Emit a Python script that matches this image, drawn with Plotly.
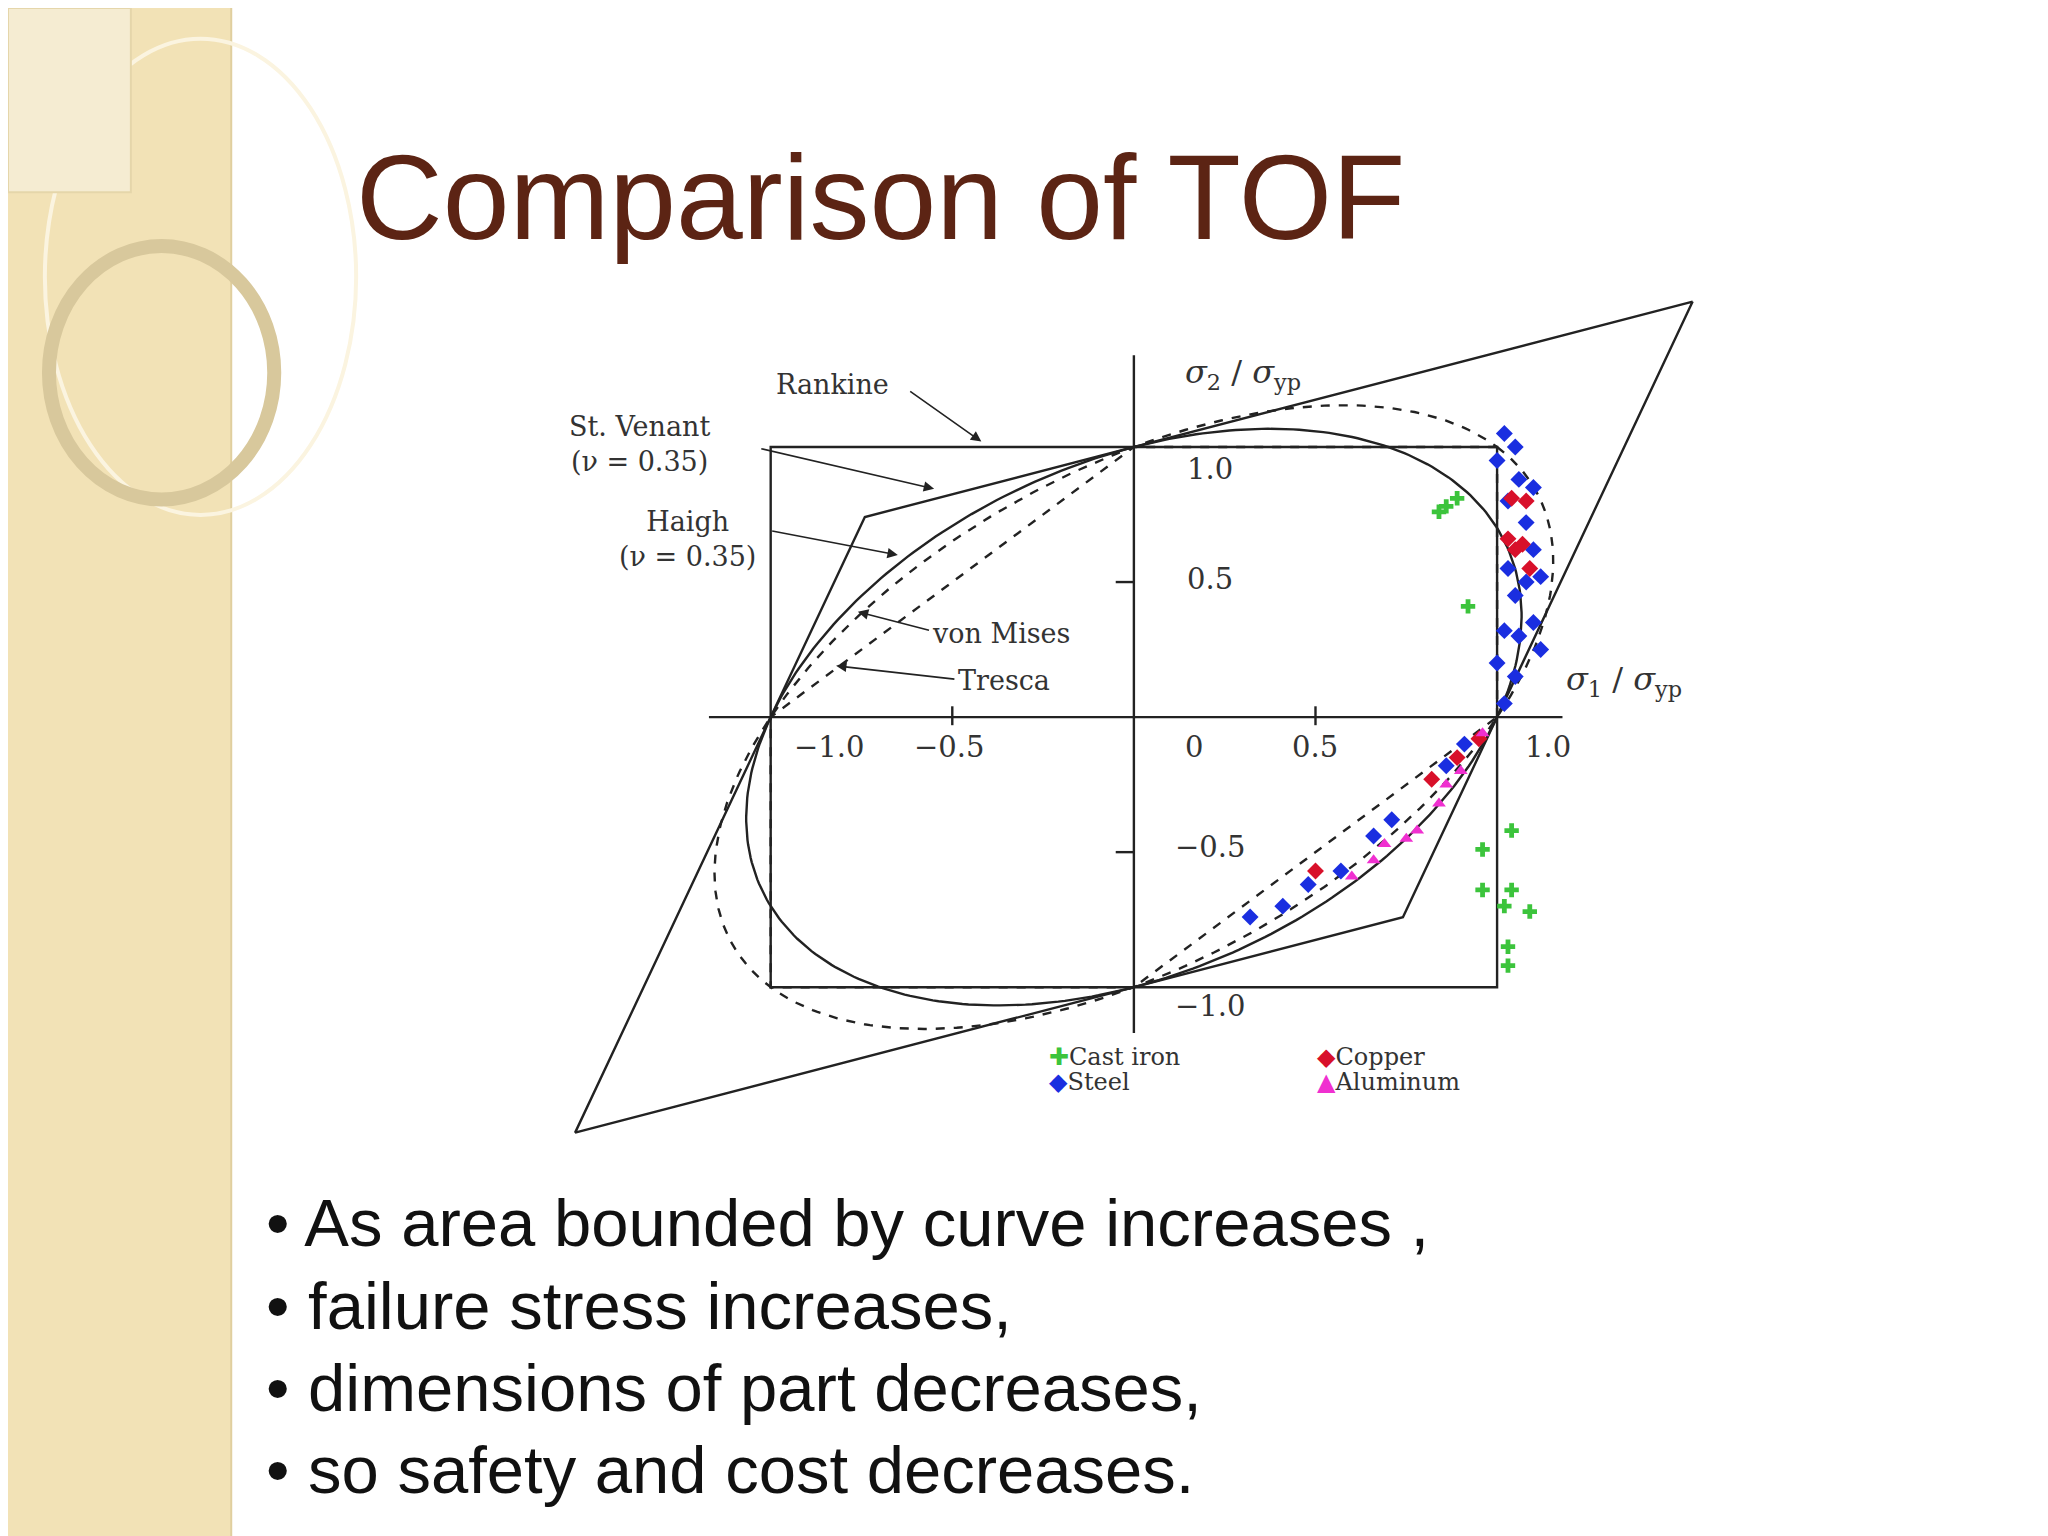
import numpy as np
import plotly.graph_objects as go

# ---- data (normalised stresses s1/syp, s2/syp) ----
nu = 0.35
rankine_x = [1, -1, -1, 1, 1]
rankine_y = [1, 1, -1, -1, 1]
tresca_x = [1, 1, 0, -1, -1, 0, 1]
tresca_y = [0, 1, 1, 0, -1, -1, 0]
sv_x = [1 / (1 - nu), -1 / (1 + nu), -1 / (1 - nu), 1 / (1 + nu), 1 / (1 - nu)]
sv_y = [1 / (1 - nu), 1 / (1 + nu), -1 / (1 - nu), -1 / (1 + nu), 1 / (1 - nu)]

steel_x = [1.02, 1.05, 1.0, 1.06, 1.1, 1.03, 1.08, 1.1, 1.03, 1.08, 1.12, 1.05, 1.1, 1.02, 1.06, 1.12, 1.0, 1.05, 1.02,
           0.32, 0.41, 0.48, 0.57, 0.66, 0.71, 0.86, 0.91]
steel_y = [1.05, 1.0, 0.95, 0.88, 0.85, 0.8, 0.72, 0.62, 0.55, 0.5, 0.52, 0.45, 0.35, 0.32, 0.3, 0.25, 0.2, 0.15, 0.05,
           -0.74, -0.70, -0.62, -0.57, -0.44, -0.38, -0.18, -0.1]
copper_x = [1.04, 1.07, 1.03, 1.09, 1.08, 1.05, 0.5, 0.82, 0.89, 0.95]
copper_y = [0.81, 0.64, 0.66, 0.55, 0.8, 0.62, -0.57, -0.23, -0.15, -0.08]
alum_x = [0.6, 0.69, 0.78, 0.84, 0.86, 0.96, 0.75, 0.66, 0.9]
alum_y = [-0.59, -0.47, -0.42, -0.32, -0.25, -0.06, -0.45, -0.53, -0.2]
cast_x = [0.84, 0.89, 0.86, 0.92, 1.04, 0.96, 0.96, 1.04, 1.02, 1.09, 1.03, 1.03]
cast_y = [0.76, 0.81, 0.78, 0.41, -0.42, -0.49, -0.64, -0.64, -0.70, -0.72, -0.85, -0.92]

axis_h_x = [-1.17, 1.18]
axis_v_y = [-1.17, 1.34]
xtick_vals = [-0.5, 0.5]
ytick_vals = [0.5, -0.5]

bullets = ["• As area bounded by curve increases ,",
           "• failure stress increases,",
           "• dimensions of part decreases,",
           "• so safety and cost decreases."]


def ellipse(n):
    t = np.linspace(0, 2 * np.pi, 361)
    u = np.cos(t) / np.sqrt(1 - n)
    v = np.sin(t) / np.sqrt(1 + n)
    return (u + v) / np.sqrt(2), (u - v) / np.sqrt(2)


fig = go.Figure()
ln = dict(color="#222", width=2.4)
fig.add_trace(go.Scatter(x=rankine_x, y=rankine_y, mode="lines", line=ln))
fig.add_trace(go.Scatter(x=sv_x, y=sv_y, mode="lines", line=ln))
hx, hy = ellipse(nu)
fig.add_trace(go.Scatter(x=hx, y=hy, mode="lines", line=ln))
mx, my = ellipse(0.5)
fig.add_trace(go.Scatter(x=mx, y=my, mode="lines", line=dict(color="#222", width=2.4, dash="dash")))
fig.add_trace(go.Scatter(x=tresca_x, y=tresca_y, mode="lines", line=dict(color="#222", width=2.4, dash="dash")))
# axes
fig.add_trace(go.Scatter(x=axis_h_x, y=[0, 0], mode="lines", line=ln))
fig.add_trace(go.Scatter(x=[0, 0], y=axis_v_y, mode="lines", line=ln))
for xv in xtick_vals:
    fig.add_trace(go.Scatter(x=[xv, xv], y=[-0.03, 0.04], mode="lines", line=ln))
for yv in ytick_vals:
    fig.add_trace(go.Scatter(x=[-0.05, 0], y=[yv, yv], mode="lines", line=ln))

fig.add_trace(go.Scatter(x=cast_x, y=cast_y, mode="markers",
                         marker=dict(symbol="cross", size=12, color="#3cc43c")))
fig.add_trace(go.Scatter(x=steel_x, y=steel_y, mode="markers",
                         marker=dict(symbol="diamond", size=13, color="#1a2ee0")))
fig.add_trace(go.Scatter(x=copper_x, y=copper_y, mode="markers",
                         marker=dict(symbol="diamond", size=13, color="#d8102a")))
fig.add_trace(go.Scatter(x=alum_x, y=alum_y, mode="markers",
                         marker=dict(symbol="triangle-up", size=12, color="#f030d0")))

serif = "DejaVu Serif"
ann = []


def txt(x, y, s, anchor="center", size=27, color="#333"):
    ann.append(dict(x=x, y=y, xref="x", yref="y", text=s, showarrow=False, xanchor=anchor,
                    font=dict(family=serif, size=size, color=color)))


def arrow(x0, y0, x1, y1):
    ann.append(dict(x=x1, y=y1, ax=x0, ay=y0, xref="x", yref="y", axref="x", ayref="y",
                    text="", showarrow=True, arrowhead=2, arrowsize=1.3, arrowwidth=1.6, arrowcolor="#222"))


txt(-0.83, 1.23, "Rankine")
arrow(-0.62, 1.21, -0.42, 1.02)
txt(-1.36, 1.01, "St. Venant<br>(ν = 0.35)", anchor="center")
arrow(-1.03, 0.995, -0.55, 0.845)
txt(-1.23, 0.66, "Haigh<br>(ν = 0.35)")
arrow(-1.0, 0.69, -0.65, 0.60)
txt(-0.56, 0.31, "von Mises", anchor="left")
arrow(-0.56, 0.32, -0.76, 0.39)
txt(-0.49, 0.135, "Tresca", anchor="left")
arrow(-0.49, 0.14, -0.82, 0.19)
txt(0.3, 1.27, "<i>σ</i><sub>2</sub> / <i>σ</i><sub>yp</sub>", size=32)
txt(1.35, 0.135, "<i>σ</i><sub>1</sub> / <i>σ</i><sub>yp</sub>", size=32)
for s, xx in zip(["−1.0", "−0.5", "0", "0.5", "1.0"], [-0.84, -0.51, 0.165, 0.5, 1.14]):
    txt(xx, -0.11, s, size=29)
for s, yy in zip(["1.0", "0.5", "−0.5", "−1.0"], [0.92, 0.51, -0.48, -1.07]):
    txt(0.21, yy, s, size=29)
txt(-0.24, -1.26, "<span style='color:#3cc43c'>✚</span>Cast iron", anchor="left", size=24)
txt(-0.24, -1.35, "<span style='color:#1a2ee0'>◆</span>Steel", anchor="left", size=24)
txt(0.5, -1.26, "<span style='color:#d8102a'>◆</span>Copper", anchor="left", size=24)
txt(0.5, -1.35, "<span style='color:#f030d0'>▲</span>Aluminum", anchor="left", size=24)

ann.append(dict(x=0.169, y=0.877, xref="paper", yref="paper", xanchor="left", yanchor="middle",
                text="Comparison of TOF", showarrow=False,
                font=dict(family="Liberation Sans", size=120, color="#5c2414")))
for i, b in enumerate(bullets):
    ann.append(dict(x=0.125, y=0.209 - i * 0.0535, xref="paper", yref="paper", xanchor="left",
                    yanchor="middle", text=b, showarrow=False,
                    font=dict(family="Liberation Sans", size=67, color="#111")))

shapes = [
    dict(type="rect", xref="paper", yref="paper", x0=0, x1=0.109, y0=0, y1=1,
         fillcolor="#f2e2b6", line=dict(width=0), layer="below"),
    dict(type="line", xref="paper", yref="paper", x0=0.109, x1=0.109, y0=0, y1=1,
         line=dict(color="#e0cf9f", width=2), layer="below"),
    dict(type="circle", xref="paper", yref="paper", x0=0.018, x1=0.17, y0=0.67, y1=0.98,
         line=dict(color="#fbf4e0", width=4), layer="below"),
    dict(type="circle", xref="paper", yref="paper", x0=0.02, x1=0.13, y0=0.68, y1=0.845,
         line=dict(color="#d8c89c", width=14), layer="below"),
    dict(type="rect", xref="paper", yref="paper", x0=0, x1=0.06, y0=0.88, y1=1,
         fillcolor="#f5ecd2", line=dict(color="#e5d6aa", width=2), layer="below"),
]

fig.update_layout(
    width=2048, height=1536, autosize=False, showlegend=False,
    margin=dict(l=0, r=0, t=0, b=0),
    paper_bgcolor="white", plot_bgcolor="rgba(0,0,0,0)",
    xaxis=dict(domain=[0.266, 0.8335], range=[-1.6, 1.6], visible=False),
    yaxis=dict(domain=[0.257, 0.8197], range=[-1.6, 1.6], visible=False),
    annotations=ann, shapes=shapes,
)
fig.write_html("out.html")
